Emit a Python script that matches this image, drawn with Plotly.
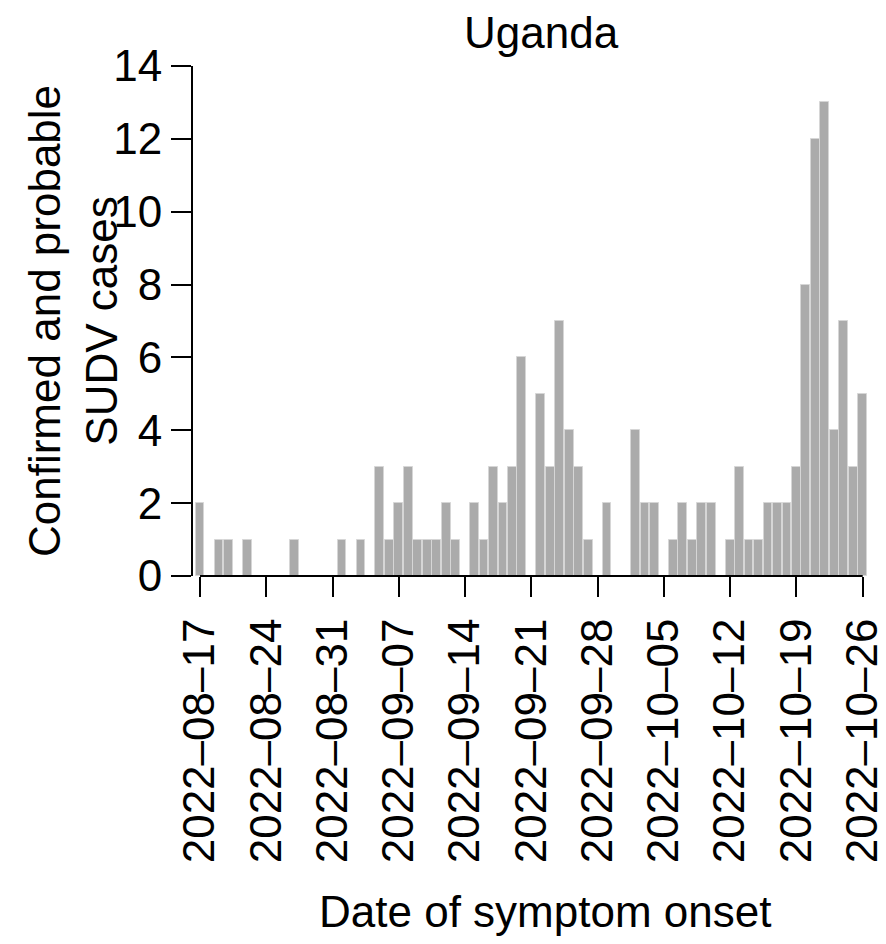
import pandas as pd
import plotly.graph_objects as go

start_date = "2022-08-17"
cases = [2, 0, 1, 1, 0, 1, 0, 0, 0, 0,
         1, 0, 0, 0, 0, 1, 0, 1, 0, 3,
         1, 2, 3, 1, 1, 1, 2, 1, 0, 2,
         1, 3, 2, 3, 6, 0, 5, 3, 7, 4,
         3, 1, 0, 2, 0, 0, 4, 2, 2, 0,
         1, 2, 1, 2, 2, 0, 1, 3, 1, 1,
         2, 2, 2, 3, 8, 12, 13, 4, 7, 3,
         5]
dates = pd.date_range(start_date, periods=len(cases), freq="D")

tick_dates = ["2022-08-17", "2022-08-24", "2022-08-31", "2022-09-07",
              "2022-09-14", "2022-09-21", "2022-09-28", "2022-10-05",
              "2022-10-12", "2022-10-19", "2022-10-26"]
tick_text = [d.replace("-", "\u2013") for d in tick_dates]
y_ticks = [0, 2, 4, 6, 8, 10, 12, 14]

title_text = "Uganda"
x_label = "Date of symptom onset"
y_label = "Confirmed and probable<br>SUDV cases"

FONT = "Liberation Sans, Arial, Helvetica, sans-serif"
FS = 44

fig = go.Figure()
fig.add_trace(go.Bar(
    x=dates, y=cases,
    width=86400000 * 0.93,
    marker=dict(color="#ababab", line=dict(color="#d6d6d6", width=1)),
    showlegend=False,
))

L, R, T, B = 192, 19, 66, 368
W, H = 886, 944
pw = W - L - R
ph = H - T - B

fig.update_layout(
    width=W, height=H,
    margin=dict(l=L, r=R, t=T, b=B, pad=0),
    plot_bgcolor="white", paper_bgcolor="white",
    font=dict(family=FONT, size=FS, color="black"),
    bargap=0,
    xaxis=dict(
        type="date",
        range=["2022-08-16 03:40", "2022-10-26 10:55"],
        tickvals=tick_dates, ticktext=tick_text,
        tickangle=-90,
        ticks="outside", ticklen=20, tickwidth=2, tickcolor="black",
        ticklabelstandoff=4,
        showgrid=False, zeroline=False, showline=False,
        tickfont=dict(family=FONT, size=FS, color="black"),
        automargin=False,
    ),
    yaxis=dict(
        range=[0, 14],
        tickvals=y_ticks,
        ticks="outside", ticklen=20, tickwidth=2, tickcolor="black",
        showgrid=False, zeroline=False, showline=False,
        tickfont=dict(family=FONT, size=FS, color="black"),
        automargin=False,
    ),
    shapes=[
        dict(type="line", xref="paper", yref="y", x0=0, x1=0, y0=0, y1=14,
             line=dict(color="black", width=2)),
        dict(type="line", xref="x", yref="paper", x0=tick_dates[0], x1=tick_dates[-1],
             y0=0, y1=0, line=dict(color="black", width=2)),
    ],
    annotations=[
        dict(text=title_text, xref="paper", yref="paper",
             x=(541 - L) / pw, y=(T + ph - 32) / ph,
             xanchor="center", yanchor="middle", showarrow=False,
             font=dict(family=FONT, size=FS, color="black")),
        dict(text=x_label, xref="paper", yref="paper",
             x=(545 - L) / pw, y=(T + ph - 912) / ph,
             xanchor="center", yanchor="middle", showarrow=False,
             font=dict(family=FONT, size=FS, color="black")),
        dict(text=y_label, xref="paper", yref="paper",
             x=(73 - L) / pw, y=(T + ph - 321) / ph,
             xanchor="center", yanchor="middle", showarrow=False,
             textangle=-90,
             font=dict(family=FONT, size=FS, color="black")),
    ],
)

fig.write_html("out.html")
